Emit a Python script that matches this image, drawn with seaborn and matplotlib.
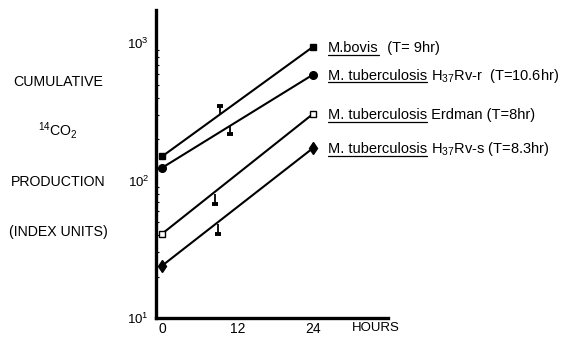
import numpy as np
import pandas as pd
import matplotlib
matplotlib.use("Agg")
import matplotlib.pyplot as plt
from matplotlib.lines import Line2D
import seaborn as sns

# ---- data ----
hours = [0, 24]
bovis = [150, 940]
rv_r = [124, 590]
erdman = [41, 305]
rv_s = [24, 172]

series_names = ["M. bovis", "H37Rv-r", "Erdman", "H37Rv-s"]
label_genus = ["M.bovis", "M. tuberculosis", "M. tuberculosis", "M. tuberculosis"]
label_rest = [
    "  (T= 9hr)",
    r" H$_{37}$Rv-r  (T=10.6hr)",
    " Erdman (T=8hr)",
    r" H$_{37}$Rv-s (T=8.3hr)",
]

# small one-sided error marks on each line
mark_hours = [9.2, 10.9, 8.4, 9.0]
mark_values = [300, 252, 80, 48]
mark_ends = [352, 220, 68, 41]

x_ticks = [0, 12, 24]
x_tick_labels = ["0", "12", "24"]

sns.set_style("white")
plt.rcParams["font.family"] = ["Liberation Sans", "DejaVu Sans"]
plt.rcParams["mathtext.fontset"] = "custom"
plt.rcParams["mathtext.rm"] = "Liberation Sans"
plt.rcParams["mathtext.it"] = "Liberation Sans"
plt.rcParams["mathtext.bf"] = "Liberation Sans:bold"
plt.rcParams["text.color"] = "black"
plt.rcParams["xtick.color"] = "black"
plt.rcParams["ytick.color"] = "black"

DPI = 100
FS = 10.2
FS_LAB = 10.5
fig = plt.figure(figsize=(5.8, 3.39), dpi=DPI)
ax = fig.add_axes([0.269, 0.062, 0.40, 0.9085])

df = pd.DataFrame({
    "hours": hours * 4,
    "value": bovis + rv_r + erdman + rv_s,
    "strain": [n for n in series_names for _ in hours],
})

styles = {
    "M. bovis": dict(marker="s", markersize=4.3, markerfacecolor="black"),
    "H37Rv-r": dict(marker="o", markersize=5.5, markerfacecolor="black"),
    "Erdman": dict(marker="s", markersize=4.6, markerfacecolor="white"),
    "H37Rv-s": dict(marker="d", markersize=6.5, markerfacecolor="black"),
}

for name in series_names:
    sub = df[df["strain"] == name]
    sns.lineplot(data=sub, x="hours", y="value", ax=ax, color="black",
                 linewidth=1.5, markeredgecolor="black", markeredgewidth=1.0,
                 legend=False, **styles[name])

# one-sided error marks
ax.vlines(mark_hours, mark_values, mark_ends, color="black", linewidth=1.3)
ax.plot(mark_hours, mark_ends, linestyle="none", marker="_", markersize=4,
        markeredgewidth=2.8, color="black")

ax.set_yscale("log")
ax.set_ylim(10, 1750)
ax.set_xlim(-0.95, 36)
ax.set_xticks(x_ticks)
ax.set_xticklabels(x_tick_labels)
ax.set_xlabel("")
ax.set_ylabel("")

for s in ["top", "right"]:
    ax.spines[s].set_visible(False)
for s in ["left", "bottom"]:
    ax.spines[s].set_linewidth(2.4)
    ax.spines[s].set_color("black")

ax.tick_params(axis="x", length=0, pad=3, labelsize=10)
ax.tick_params(axis="y", which="major", direction="in", length=0, pad=5, labelsize=9.5)
ax.tick_params(axis="y", which="minor", direction="in", length=2, width=0.8, left=True)

ax.annotate("HOURS", xy=(30.3, 0), xycoords=("data", "axes fraction"),
            xytext=(0, -3), textcoords="offset points",
            ha="left", va="top", fontsize=9.5, annotation_clip=False)

# left-hand axis title lines
left_lines = ["CUMULATIVE", r"$^{14}$CO$_2$", "PRODUCTION", "(INDEX UNITS)"]
left_y = [0.757, 0.615, 0.463, 0.316]
for txt, yy in zip(left_lines, left_y):
    fig.text(0.10, yy, txt, ha="center", va="center", fontsize=FS)

# series labels with underlined genus names
fig.canvas.draw()
renderer = fig.canvas.get_renderer()
x_off = 11
y_off = -3.7
for name, genus, rest in zip(series_names, label_genus, label_rest):
    sub = df[df["strain"] == name]
    xy = (sub["hours"].iloc[-1], sub["value"].iloc[-1])
    t = ax.annotate(genus, xy=xy, xytext=(x_off, y_off), textcoords="offset points",
                    ha="left", va="baseline", fontsize=FS_LAB, annotation_clip=False)
    bb = t.get_window_extent(renderer)
    px, py = ax.transData.transform(xy)
    base_y = py + y_off * DPI / 72.0
    ul_y = base_y - 2.4
    (fx0, fy), (fx1, _) = fig.transFigure.inverted().transform([(bb.x0, ul_y), (bb.x1, ul_y)])
    fig.add_artist(Line2D([fx0, fx1], [fy, fy], transform=fig.transFigure,
                          color="black", linewidth=0.9))
    w_pt = bb.width * 72.0 / DPI
    ax.annotate(rest, xy=xy, xytext=(x_off + w_pt, y_off), textcoords="offset points",
                ha="left", va="baseline", fontsize=FS_LAB, annotation_clip=False)

fig.savefig("out.png", dpi=DPI)
